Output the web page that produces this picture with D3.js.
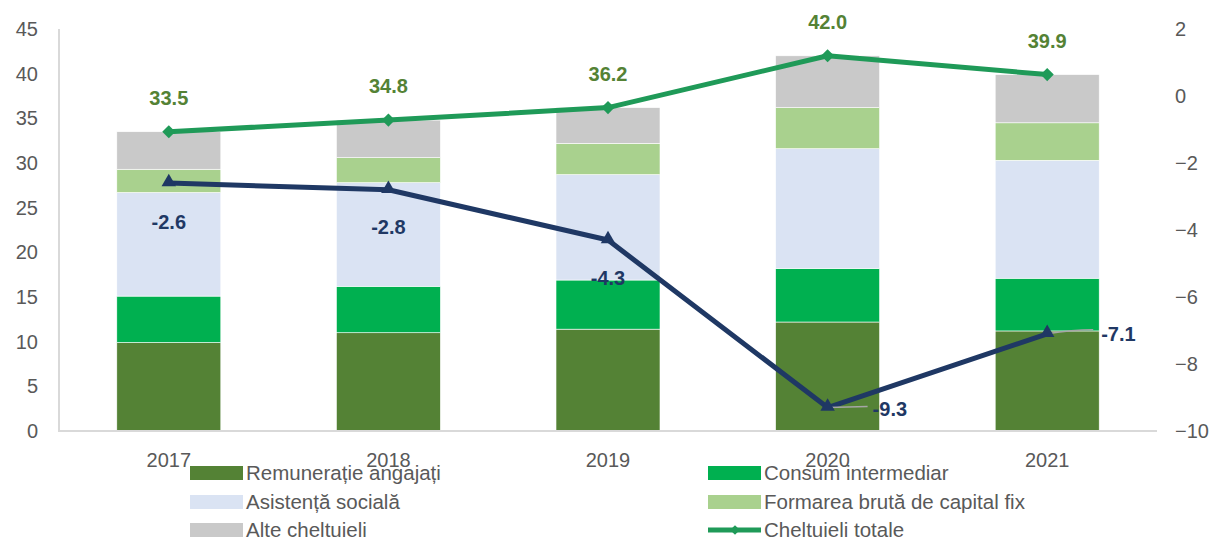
<!DOCTYPE html>
<html>
<head>
<meta charset="utf-8">
<script src="https://cdn.jsdelivr.net/npm/d3@7"></script>
<style>
  body { margin: 0; background: #fff; }
  svg text { font-family: "Liberation Sans", Arial, sans-serif; }
</style>
</head>
<body>
<svg id="svg" width="1211" height="540"></svg>
<script>
var years = ['2017', '2018', '2019', '2020', '2021'];

// stacked components (% of GDP)
var remuneratie = [9.9, 11.0, 11.4, 12.2, 11.2];
var consum = [5.2, 5.2, 5.5, 6.0, 5.9];
var asistenta = [11.6, 11.6, 11.8, 13.4, 13.2];
var formarea = [2.6, 2.8, 3.5, 4.6, 4.2];
var alte = [4.2, 4.2, 4.0, 5.8, 5.4];

var totale = [33.5, 34.8, 36.2, 42.0, 39.9];
var deficit = [-2.6, -2.8, -4.3, -9.3, -7.1];

var leftTicks = [0, 5, 10, 15, 20, 25, 30, 35, 40, 45];
var rightTicks = [-10, -8, -6, -4, -2, 0, 2];

var seriesNames = ['Remunerație angajați', 'Consum intermediar', 'Asistență socială',
    'Formarea brută de capital fix', 'Alte cheltuieli'];
var seriesColors = ['#548235', '#00b050', '#dae3f3', '#a9d18e', '#c9c9c9'];
var seriesValues = [remuneratie, consum, asistenta, formarea, alte];

var greenLine = '#1f9a58';
var navy = '#1f3864';
var labelGreen = '#548235';
var axisGray = '#595959';

var svg = d3.select('svg');

var x = d3.scaleBand()
    .domain(years)
    .range([59, 1157]);

var y = d3.scaleLinear()
    .domain([0, 45])
    .range([431, 29]);

var y2 = d3.scaleLinear()
    .domain([-10, 2])
    .range([431, 29]);

var barW = 104;

// build stack table
var table = years.map(function(yr, i){
    var row = { year: yr };
    seriesNames.forEach(function(n, j){ row[n] = seriesValues[j][i]; });
    return row;
});
var stacked = d3.stack().keys(seriesNames)(table);

svg.append('g')
    .selectAll('g')
    .data(stacked)
    .enter()
    .append('g')
    .attr('fill', function(d, i){ return seriesColors[i]; })
    .selectAll('rect')
    .data(function(d){ return d; })
    .enter()
    .append('rect')
    .attr('x', function(d){ return x(d.data.year) + x.bandwidth()/2 - barW/2; })
    .attr('width', barW)
    .attr('y', function(d){ return y(d[1]); })
    .attr('height', function(d){ return y(d[0]) - y(d[1]); })
    .attr('stroke', '#ffffff')
    .attr('stroke-width', 0.6);

// axis lines
svg.append('line')
    .attr('x1', 59).attr('x2', 59)
    .attr('y1', y(45)).attr('y2', y(0))
    .attr('stroke', '#d9d9d9').attr('stroke-width', 2);
svg.append('line')
    .attr('x1', 58).attr('x2', 1157)
    .attr('y1', y(0)).attr('y2', y(0))
    .attr('stroke', '#d9d9d9').attr('stroke-width', 2);

// left ticks
var leftAxis = d3.axisLeft(y).tickValues(leftTicks).tickSize(0).tickPadding(21);
var gl = svg.append('g').attr('transform', 'translate(59,0)').call(leftAxis);
gl.select('.domain').remove();
gl.selectAll('text').attr('fill', axisGray).style('font-size', '20px');

// right ticks
var rightAxis = d3.axisRight(y2).tickValues(rightTicks).tickSize(0).tickPadding(18);
var gr = svg.append('g').attr('transform', 'translate(1157,0)').call(rightAxis);
gr.select('.domain').remove();
gr.selectAll('text').attr('fill', axisGray).style('font-size', '20px');

// x ticks
var xAxis = d3.axisBottom(x).tickSize(0).tickPadding(22);
var gx = svg.append('g').attr('transform', 'translate(0,431)').call(xAxis);
gx.select('.domain').remove();
gx.selectAll('text').attr('fill', axisGray).style('font-size', '20px');

function cx(d, i){ return x(years[i]) + x.bandwidth()/2; }

// total line
var lineT = d3.line()
    .x(function(d, i){ return cx(d, i); })
    .y(function(d){ return y(d); });
svg.append('path')
    .datum(totale)
    .attr('d', lineT)
    .attr('fill', 'none')
    .attr('stroke', greenLine)
    .attr('stroke-width', 5)
    .attr('stroke-linejoin', 'round');
svg.selectAll('.diamond')
    .data(totale)
    .enter()
    .append('path')
    .attr('class', 'diamond')
    .attr('d', d3.symbol().type(d3.symbolDiamond2).size(110))
    .attr('transform', function(d, i){ return 'translate(' + cx(d, i) + ',' + y(d) + ')'; })
    .attr('fill', greenLine);

// deficit line
var lineD = d3.line()
    .x(function(d, i){ return cx(d, i); })
    .y(function(d){ return y2(d); });
svg.append('path')
    .datum(deficit)
    .attr('d', lineD)
    .attr('fill', 'none')
    .attr('stroke', navy)
    .attr('stroke-width', 5)
    .attr('stroke-linejoin', 'round');

// leader lines for last two deficit labels
svg.append('path')
    .attr('d', 'M' + cx(0, 3) + ',' + y2(deficit[3]) + ' L' + (cx(0, 3) + 40) + ',' + (y2(deficit[3]) - 1))
    .attr('stroke', '#a6a6a6').attr('stroke-width', 1.5).attr('fill', 'none');
svg.append('path')
    .attr('d', 'M' + cx(0, 4) + ',' + y2(deficit[4]) + ' Q' + (cx(0, 4) + 25) + ',' + (y2(deficit[4]) - 4) + ' ' + (cx(0, 4) + 46) + ',' + (y2(deficit[4]) - 4))
    .attr('stroke', '#a6a6a6').attr('stroke-width', 1.5).attr('fill', 'none');

svg.selectAll('.tri')
    .data(deficit)
    .enter()
    .append('path')
    .attr('class', 'tri')
    .attr('d', d3.symbol().type(d3.symbolTriangle2).size(150))
    .attr('transform', function(d, i){ return 'translate(' + cx(d, i) + ',' + (y2(d) - 1) + ')'; })
    .attr('fill', navy);

// total labels
svg.selectAll('.tlab')
    .data(totale)
    .enter()
    .append('text')
    .attr('x', function(d, i){ return cx(d, i); })
    .attr('y', function(d){ return y(d) - 27; })
    .attr('text-anchor', 'middle')
    .attr('fill', labelGreen)
    .style('font-size', '20px')
    .style('font-weight', 'bold')
    .text(function(d){ return d.toFixed(1); });

// deficit labels
var dOff = [[0, 46], [0, 44], [0, 45], [45, 8], [54, 7]];
svg.selectAll('.dlab')
    .data(deficit)
    .enter()
    .append('text')
    .attr('x', function(d, i){ return cx(d, i) + dOff[i][0]; })
    .attr('y', function(d, i){ return y2(d) + dOff[i][1]; })
    .attr('text-anchor', function(d, i){ return dOff[i][0] ? 'start' : 'middle'; })
    .attr('fill', navy)
    .style('font-size', '20px')
    .style('font-weight', 'bold')
    .text(function(d){ return d.toFixed(1); });

// legend
var legendItems = [
    { name: seriesNames[0], color: seriesColors[0], col: 0, row: 0 },
    { name: seriesNames[1], color: seriesColors[1], col: 1, row: 0 },
    { name: seriesNames[2], color: seriesColors[2], col: 0, row: 1 },
    { name: seriesNames[3], color: seriesColors[3], col: 1, row: 1 },
    { name: seriesNames[4], color: seriesColors[4], col: 0, row: 2 },
    { name: 'Cheltuieli totale', color: greenLine, col: 1, row: 2, line: true }
];
var colX = [190, 708];
var rowY = [473, 502, 530];

var lg = svg.append('g')
    .selectAll('g')
    .data(legendItems)
    .enter()
    .append('g')
    .attr('transform', function(d){ return 'translate(' + colX[d.col] + ',' + rowY[d.row] + ')'; });

lg.filter(function(d){ return !d.line; })
    .append('rect')
    .attr('x', 0).attr('y', -7)
    .attr('width', 53).attr('height', 14)
    .attr('fill', function(d){ return d.color; });

var lineLeg = lg.filter(function(d){ return d.line; });
lineLeg.append('line')
    .attr('x1', 0).attr('x2', 53).attr('y1', 0).attr('y2', 0)
    .attr('stroke', greenLine).attr('stroke-width', 5);
lineLeg.append('path')
    .attr('d', d3.symbol().type(d3.symbolDiamond2).size(60))
    .attr('transform', 'translate(27,0)')
    .attr('fill', greenLine);

lg.append('text')
    .attr('x', 56)
    .attr('y', 7)
    .attr('fill', axisGray)
    .style('font-size', '20.5px')
    .text(function(d){ return d.name; });
</script>
</body>
</html>
